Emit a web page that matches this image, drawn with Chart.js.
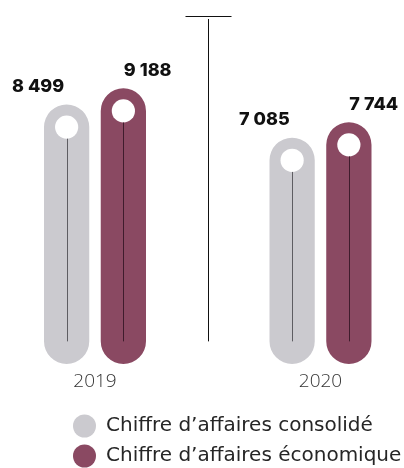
<!DOCTYPE html>
<html>
<head>
<meta charset="utf-8">
<script src="https://cdn.jsdelivr.net/npm/chart.js@4.4.0/dist/chart.umd.min.js"></script>
<style>
  html, body { margin: 0; padding: 0; background: #fff; }
  #wrap { width: 404px; height: 468px; }
</style>
</head>
<body>
<div id="wrap"><canvas id="caChart"></canvas></div>
<script>
const years = ['2019', '2020']
const consolide = [8499, 7085]
const economique = [9188, 7744]
const seriesNames = ['Chiffre d\u2019affaires consolidé', 'Chiffre d\u2019affaires économique']

// pills start below zero so the rounded foot is part of every bar
const floorValue = -2545
const ceilValue = 12944

const fills = ['#cbcacf', '#8a4962']
const stems = ['#5e5d62', '#3f1c2c']

const fmt = v => String(v).replace(/\B(?=(\d{3})+(?!\d))/g, ' ')

// white hole, stem, value label and the separator
const pillDecor = {
  id: 'pillDecor',
  afterDatasetsDraw(chart) {
    const c = chart.ctx
    const x = chart.scales.x
    let foot = 0
    chart.data.datasets.forEach((ds, di) => {
      const meta = chart.getDatasetMeta(di)
      meta.data.forEach((bar, i) => {
        const r = bar.width / 2
        const cy = bar.y + r
        foot = bar.base - r
        c.save()
        c.fillStyle = '#fff'
        c.beginPath()
        c.arc(bar.x, cy, 11.6, 0, Math.PI * 2)
        c.fill()

        c.strokeStyle = stems[di]
        c.lineWidth = 1
        c.beginPath()
        c.moveTo(Math.round(bar.x) + 0.5, cy + 11.6)
        c.lineTo(Math.round(bar.x) + 0.5, foot)
        c.stroke()

        c.fillStyle = '#111'
        c.font = '800 18px Inter'
        c.textBaseline = 'middle'
        if (di === 0) {
          c.textAlign = 'right'
          c.fillText(fmt(ds.data[i].y), bar.x - 2.5, bar.y - 18)
        } else {
          c.textAlign = 'left'
          c.fillText(fmt(ds.data[i].y), bar.x + 0.5, bar.y - 18)
        }
        c.restore()
      })
    })

    const sx = Math.round(x.getPixelForValue(0.5)) + 0.5
    c.save()
    c.strokeStyle = '#111'
    c.lineWidth = 1
    c.beginPath()
    c.moveTo(sx - 23, 16.5)
    c.lineTo(sx + 23, 16.5)
    c.moveTo(sx, 19)
    c.lineTo(sx, foot)
    c.stroke()
    c.restore()
  }
}

const ctx = document.getElementById('caChart').getContext('2d')

const myChart = new Chart(ctx, {
  type: 'bar',
  data: {
    datasets: [{
      label: seriesNames[0],
      data: years.map((y, i) => ({ x: i, y: consolide[i] })),
      backgroundColor: fills[0],
      base: floorValue,
      clip: false
    }, {
      label: seriesNames[1],
      data: years.map((y, i) => ({ x: i, y: economique[i] })),
      backgroundColor: fills[1],
      base: floorValue,
      clip: false
    }]
  },
  options: {
    responsive: true,
    maintainAspectRatio: false,
    animation: false,
    layout: { padding: { left: 63, right: 0, top: 0, bottom: 0 } },
    categoryPercentage: 0.5033,
    barPercentage: 0.7975,
    borderRadius: 23,
    borderSkipped: false,
    borderWidth: 0,
    scales: {
      x: {
        type: 'linear',
        offset: false,
        min: -0.1419,
        max: 1.3703,
        grid: { display: false },
        border: { display: false },
        ticks: {
          stepSize: 1,
          includeBounds: false,
          padding: -2,
          color: '#333',
          font: { family: 'Open Sans', weight: '300', size: 19 },
          callback: v => years[v]
        },
        afterFit: axis => { axis.height = 42 }
      },
      y: { display: false, min: floorValue, max: ceilValue }
    },
    plugins: {
      legend: {
        position: 'bottom',
        align: 'start',
        maxHeight: 62,
        labels: {
          usePointStyle: true,
          pointStyle: 'circle',
          boxHeight: 16.4,
          pointStyleWidth: 23,
          padding: 10,
          color: '#262626',
          font: { family: 'DejaVu Sans', weight: 'normal', size: 20 }
        }
      },
      tooltip: { enabled: false }
    }
  },
  plugins: [pillDecor]
})
</script>
</body>
</html>
